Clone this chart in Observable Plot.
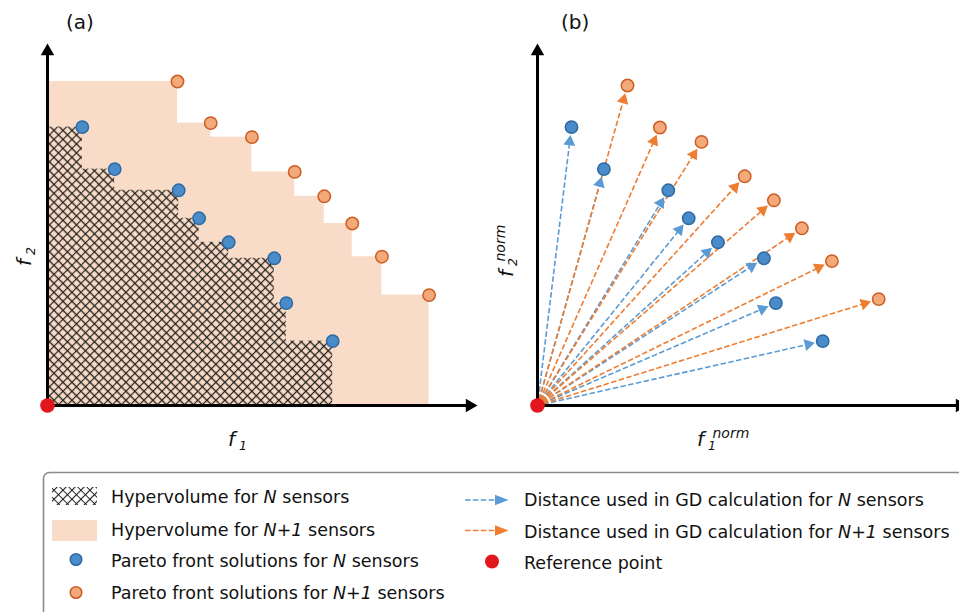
<!DOCTYPE html>
<html>
<head>
<meta charset="utf-8">
<script src="https://cdn.jsdelivr.net/npm/d3@7"></script>
<script src="https://cdn.jsdelivr.net/npm/@observablehq/plot@0.6"></script>
<style>
html, body { margin: 0; padding: 0; background: #fff; width: 959px; height: 612px; overflow: hidden; }
body { position: relative; font-family: "DejaVu Sans", sans-serif; }
svg { max-width: none !important; }
.panel { position: absolute; top: 0; width: 480px; height: 460px; }
#overlay { position: absolute; left: 0; top: 0; pointer-events: none; }
#overlay text { font-family: "DejaVu Sans", sans-serif; fill: #111; }
</style>
</head>
<body>
<div id="a" class="panel" style="left:0px"></div>
<div id="b" class="panel" style="left:490px"></div>
<svg id="overlay" width="959" height="612" xmlns="http://www.w3.org/2000/svg"></svg>
<script>
// ---- data (arbitrary objective units) ----
const blueF1 = [0.87, 1.68, 3.28, 3.79, 4.53, 5.67, 5.97, 7.13];
const blueF2 = [6.96, 5.91, 5.38, 4.68, 4.08, 3.68, 2.56, 1.61];
const orangeF1 = [3.25, 4.08, 5.11, 6.18, 6.92, 7.62, 8.36, 9.54];
const orangeF2 = [8.10, 7.06, 6.71, 5.84, 5.23, 4.55, 3.72, 2.76];
const blueNormF1 = [0.85, 1.66, 3.27, 3.78, 4.51, 5.66, 5.96, 7.13];
const blueNormF2 = [6.96, 5.91, 5.38, 4.68, 4.08, 3.68, 2.56, 1.61];
const orangeNormF1 = [2.25, 3.06, 4.10, 5.18, 5.91, 6.61, 7.36, 8.53];
const orangeNormF2 = [8.00, 6.95, 6.59, 5.73, 5.13, 4.43, 3.61, 2.66];
const refPoint = [{x: 0, y: 0}];
const axisExtent = [10.75, 9.05];
const panelLabels = ["(a)", "(b)"];
const legendLeft = ["Hypervolume for |N| sensors", "Hypervolume for |N+1| sensors",
  "Pareto front solutions for |N| sensors", "Pareto front solutions for |N+1| sensors"];
const legendRight = ["Distance used in GD calculation for |N| sensors",
  "Distance used in GD calculation for |N+1| sensors", "Reference point"];

// ---- styles ----
const BLUE_FILL = "#4a8bc9", BLUE_STROKE = "#2c6aa4";
const OR_FILL = "#f4a97b", OR_STROKE = "#cc5d22";
const HV_FILL = "#f9dcc7", RED = "#e2161d";
const BLUE_LINE = "#5b9bd5", OR_LINE = "#ed7d31";
const HATCH = (id, w) => `<pattern id="${id}" patternUnits="userSpaceOnUse" width="6.36" height="6.36" patternTransform="rotate(45)">
  <path d="M0,3.18H6.36M3.18,0V6.36" stroke="#1c1c1c" stroke-width="${w}" fill="none"/></pattern>`;

const W = 480, H = 460, mL = 47, mR = 3, mT = 43, mB = 55;
const [xMax, yMax] = axisExtent;
const pxX = (W - mL - mR) / xMax, pxY = (H - mT - mB) / yMax;
const toPts = (xs, ys) => xs.map((x, i) => ({x, y: ys[i], x0: i ? xs[i - 1] : 0}));

function axesMarks() {
  const r = 5, tip = 1.555 * r;
  return [
    Plot.ruleY([0], {x1: 0, x2: xMax - tip / pxX, stroke: "black", strokeWidth: 3}),
    Plot.ruleX([0], {y1: 0, y2: yMax - tip / pxY, stroke: "black", strokeWidth: 3}),
    Plot.dot([{x: xMax, y: 0}], {x: "x", y: "y", symbol: "triangle", r, rotate: 90, fill: "black", stroke: "none", dx: -tip}),
    Plot.dot([{x: 0, y: yMax}], {x: "x", y: "y", symbol: "triangle", r, rotate: 0, fill: "black", stroke: "none", dy: tip})
  ];
}
const dots = (pts, fill, stroke) => Plot.dot(pts, {x: "x", y: "y", r: 6.2, fill, stroke, strokeWidth: 1.5});
const refDot = () => Plot.dot(refPoint, {x: "x", y: "y", r: 7.3, fill: RED, stroke: "none"});
const base = {width: W, height: H, marginLeft: mL, marginRight: mR, marginTop: mT, marginBottom: mB,
  x: {domain: [0, xMax], axis: null}, y: {domain: [0, yMax], axis: null}};

// ---- panel (a) ----
const blueA = toPts(blueF1, blueF2), orangeA = toPts(orangeF1, orangeF2);
const plotA = Plot.plot({...base, marks: [
  Plot.rect(orangeA, {x1: () => 0, x2: "x", y1: () => 0, y2: "y", fill: HV_FILL}),
  Plot.rect(blueA, {x1: "x0", x2: "x", y1: () => 0, y2: "y", fill: "url(#hatchA)"}),
  ...axesMarks(),
  dots(blueA, BLUE_FILL, BLUE_STROKE),
  dots(orangeA, OR_FILL, OR_STROKE),
  refDot()
]});
const ns = "http://www.w3.org/2000/svg";
const defs = document.createElementNS(ns, "defs");
defs.innerHTML = HATCH("hatchA", 1.15);
plotA.prepend(defs);
document.getElementById("a").append(plotA);

// ---- panel (b) ----
const blueB = toPts(blueNormF1, blueNormF2), orangeB = toPts(orangeNormF1, orangeNormF2);
const headR = 4.4;
function arrows(pts) {
  return pts.map(p => {
    const sx = p.x * pxX, sy = p.y * pxY, L = Math.hypot(sx, sy), ux = sx / L, uy = sy / L;
    const tipD = 8, headD = tipD + 1.555 * headR, startD = 6;
    return {
      x1: ux * startD / pxX, y1: uy * startD / pxY,
      x2: p.x - ux * headD / pxX, y2: p.y - uy * headD / pxY,
      hx: p.x - ux * headD / pxX, hy: p.y - uy * headD / pxY,
      rot: Math.atan2(ux, uy) * 180 / Math.PI
    };
  });
}
const arB = arrows(blueB), arO = arrows(orangeB);
const link = (d, stroke) => Plot.link(d, {x1: "x1", y1: "y1", x2: "x2", y2: "y2", stroke, strokeWidth: 1.6, strokeDasharray: "5.5,2.4"});
const head = (d, fill) => Plot.dot(d, {x: "hx", y: "hy", rotate: "rot", symbol: "triangle", r: headR, fill, stroke: "none"});
const plotB = Plot.plot({...base, marks: [
  link(arB, BLUE_LINE), link(arO, OR_LINE),
  head(arB, BLUE_LINE), head(arO, OR_LINE),
  ...axesMarks(),
  dots(blueB, BLUE_FILL, BLUE_STROKE),
  dots(orangeB, OR_FILL, OR_STROKE),
  refDot()
]});
document.getElementById("b").append(plotB);

// ---- overlay text and legend ----
const ov = d3.select("#overlay");
function richText(g, str, x, y, size) {
  const t = g.append("text").attr("x", x).attr("y", y).style("font-size", size + "px");
  str.split("|").forEach((part, i) => {
    t.append("tspan").text(part).style("font-style", i % 2 ? "italic" : "normal");
  });
  return t;
}
ov.append("text").attr("x", 66).attr("y", 28.5).style("font-size", "20px").text(panelLabels[0]);
ov.append("text").attr("x", 561).attr("y", 28.5).style("font-size", "20px").text(panelLabels[1]);

function axisLabel(g, x, y, sub, sup) {
  g.append("text").attr("x", x).attr("y", y).style("font-size", "20px").style("font-style", "italic").text("f");
  g.append("text").attr("x", x + 11).attr("y", y + 3.5).style("font-size", "12.5px").style("font-style", "italic").text(sub);
  if (sup) g.append("text").attr("x", x + 15.5).attr("y", y - 8.5).style("font-size", "14px").style("font-style", "italic").text(sup);
}
axisLabel(ov, 228, 446, "1");
axisLabel(ov.append("g").attr("transform", "translate(31,266) rotate(-90)"), 0, 0, "2");
axisLabel(ov, 697, 446, "1", "norm");
axisLabel(ov.append("g").attr("transform", "translate(513,277) rotate(-90)"), 0, 0, "2", "norm");

// legend frame
ov.append("rect").attr("x", 43.5).attr("y", 472.5).attr("width", 960).attr("height", 200).attr("rx", 6)
  .attr("fill", "white").attr("stroke", "#8c8c8c").attr("stroke-width", 1.6);
ov.append("defs").html(HATCH("hatchL", 1.1));
const leftBase = [503, 535.5, 567, 599];
ov.append("rect").attr("x", 52).attr("y", 487).attr("width", 45).attr("height", 18).attr("fill", "url(#hatchL)");
ov.append("rect").attr("x", 52).attr("y", 520).attr("width", 45).attr("height", 21).attr("fill", HV_FILL);
ov.append("circle").attr("cx", 76).attr("cy", 559.5).attr("r", 5.8).attr("fill", BLUE_FILL).attr("stroke", BLUE_STROKE).attr("stroke-width", 1.5);
ov.append("circle").attr("cx", 76).attr("cy", 592.5).attr("r", 5.8).attr("fill", OR_FILL).attr("stroke", OR_STROKE).attr("stroke-width", 1.5);
legendLeft.forEach((s, i) => richText(ov, s, 111, leftBase[i], 17.5));

const rightBase = [505.5, 537.5, 569];
[[BLUE_LINE, 500], [OR_LINE, 530.5]].forEach(([c, y]) => {
  ov.append("line").attr("x1", 465).attr("x2", 496).attr("y1", y).attr("y2", y)
    .attr("stroke", c).attr("stroke-width", 1.6).attr("stroke-dasharray", "5.5,2.4");
  ov.append("path").attr("d", `M495,${y - 5.2}L508.5,${y}L495,${y + 5.2}Z`).attr("fill", c);
});
ov.append("circle").attr("cx", 492).attr("cy", 561.5).attr("r", 7).attr("fill", RED);
legendRight.forEach((s, i) => richText(ov, s, 524, rightBase[i], 17.5));
</script>
</body>
</html>
